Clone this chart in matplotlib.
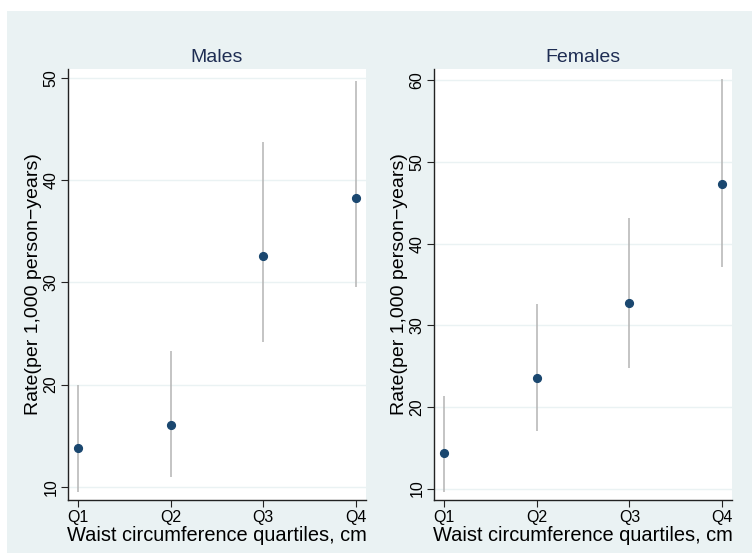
import matplotlib
matplotlib.use('Agg')
import matplotlib.pyplot as plt
from matplotlib.patches import Rectangle

quartiles = ['Q1', 'Q2', 'Q3', 'Q4']

males_rate = [13.8, 16.0, 32.6, 38.3]
males_lo = [9.5, 11.0, 24.2, 29.6]
males_hi = [20.0, 23.3, 43.8, 49.7]

females_rate = [14.3, 23.6, 32.7, 47.3]
females_lo = [9.6, 17.1, 24.8, 37.1]
females_hi = [21.3, 32.6, 43.1, 60.2]

plt.rcParams['font.family'] = ['Liberation Sans', 'DejaVu Sans']

bg = '#eaf2f3'
navy = '#1a476f'
title_col = '#1e2d53'

fig = plt.figure(figsize=(7.52, 5.53), dpi=100)
fig.patch.set_facecolor('white')
fig.patches.append(Rectangle((7 / 752, 0), 1, 1 - 11 / 553, transform=fig.transFigure,
                             facecolor=bg, edgecolor='none', zorder=-10))

panels = [
    ('Males', males_rate, males_lo, males_hi, [0.0904, 0.0958, 0.3963, 0.7794],
     (0.89, 4.11), (8.7, 50.9), [10, 20, 30, 40, 50]),
    ('Females', females_rate, females_lo, females_hi, [0.5775, 0.0958, 0.3955, 0.7794],
     (0.9, 4.1), (8.6, 61.4), [10, 20, 30, 40, 50, 60]),
]

for title, rate, lo, hi, pos, xlim, ylim, yticks in panels:
    ax = fig.add_axes(pos)
    ax.set_facecolor('white')
    x = list(range(1, len(quartiles) + 1))
    ax.vlines(x, lo, hi, color='#b4b4b4', linewidth=1.1, zorder=2)
    ax.plot(x, rate, 'o', color=navy, markersize=5.6, zorder=3)
    ax.set_xlim(*xlim)
    ax.set_ylim(*ylim)
    ax.set_xticks(x)
    ax.set_xticklabels(quartiles, fontsize=11.5)
    ax.set_yticks(yticks)
    ax.set_yticklabels([str(t) for t in yticks], fontsize=11.5, rotation=90, va='center')
    ax.grid(axis='y', color=bg, linewidth=1)
    ax.set_axisbelow(True)
    for s in ['top', 'right']:
        ax.spines[s].set_visible(False)
    for s in ['left', 'bottom']:
        ax.spines[s].set_color('#222222')
        ax.spines[s].set_linewidth(1)
    ax.tick_params(length=5, width=0.8, color='#222222', pad=2)
    ax.set_title(title, fontsize=14, color=title_col, pad=5)
    ax.set_xlabel('Waist circumference quartiles, cm', fontsize=14.4, labelpad=1)
    ax.set_ylabel('Rate(per 1,000 person\u2212years)', fontsize=14, labelpad=1)

fig.savefig('out.png', dpi=100, facecolor=fig.get_facecolor())
